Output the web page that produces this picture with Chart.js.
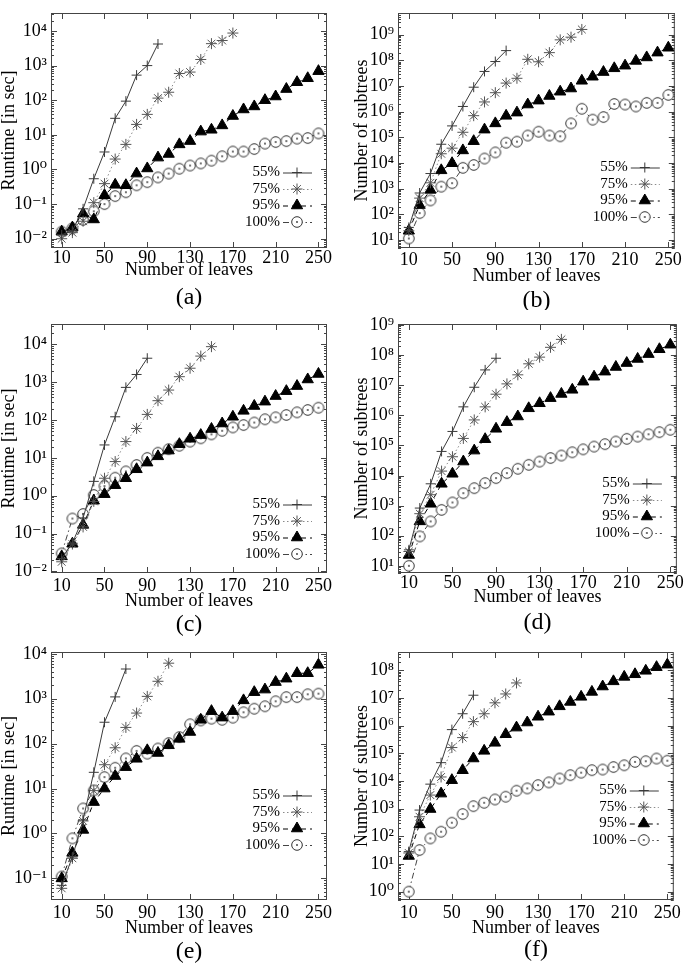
<!DOCTYPE html>
<html>
<head>
<meta charset="utf-8">
<script src="https://cdn.jsdelivr.net/npm/chart.js@4.4.0/dist/chart.umd.min.js"></script>
<style>
  body { margin: 0; background: #fff; width: 685px; height: 964px; position: relative; overflow: hidden; }
  canvas { position: absolute; }
</style>
</head>
<body>
<canvas id="ca"></canvas>
<canvas id="cb"></canvas>
<canvas id="cc"></canvas>
<canvas id="cd"></canvas>
<canvas id="ce"></canvas>
<canvas id="cf"></canvas>
<script>
// x values and tick labels
const leaves = [10, 20, 30, 40, 50, 60, 70, 80, 90, 100, 110, 120, 130,
                140, 150, 160, 170, 180, 190, 200, 210, 220, 230, 240, 250];
const xTicks = [10, 50, 90, 130, 170, 210, 250];
const levels = ['55%', '75%', '95%', '100%'];

const runTicksAC = [1e-2, 1e-1, 1e0, 1e1, 1e2, 1e3, 1e4];
const runTicksE = [1e-1, 1e0, 1e1, 1e2, 1e3, 1e4];
const subTicksBD = [1e1, 1e2, 1e3, 1e4, 1e5, 1e6, 1e7, 1e8, 1e9];
const subTicksF = [1e0, 1e1, 1e2, 1e3, 1e4, 1e5, 1e6, 1e7, 1e8];

// (a) runtime
const runA55 = [0.013, 0.017, 0.073, 0.54, 3.2, 30, 94, 530, 1000, 4200];
const runA75 = [0.010, 0.015, 0.032, 0.11, 0.39, 2.0, 5.3, 20, 39, 115, 170, 590, 650, 1500, 4300, 5300, 8700];
const runA95 = [0.016, 0.021, 0.053, 0.036, 0.18, 0.36, 0.35, 0.76, 1.07, 2.2, 2.8, 5.3, 6.6, 12.4, 14, 18.7, 35, 54, 66, 100, 128, 210, 330, 430, 690];
const runA100 = [0.016, 0.02, 0.035, 0.062, 0.1, 0.17, 0.22, 0.35, 0.43, 0.59, 0.76, 1.05, 1.3, 1.5, 1.8, 2.4, 3.3, 3.3, 3.9, 5.6, 6.2, 6.6, 7.8, 8.1, 11];

// (b) subtrees
const subB55 = [31, 680, 3900, 54000, 280000, 1.6e6, 9e6, 3.7e7, 9e7, 2.4e8];
const subB75 = [23, 430, 1700, 23000, 38000, 158000, 700000, 2.4e6, 5.5e6, 1.3e7, 2e7, 1.1e8, 8.8e7, 2e8, 6.3e8, 8e8, 1.6e9];
const subB95 = [23, 230, 900, 5200, 9800, 31000, 71000, 200000, 350000, 690000, 920000, 1.9e6, 2.7e6, 4.1e6, 6e6, 8e6, 1.6e7, 2.3e7, 3.5e7, 4.9e7, 6.2e7, 9.5e7, 1.3e8, 2e8, 3.1e8];
const subB100 = [11.5, 112, 350, 1200, 1650, 6500, 8400, 15000, 26000, 62000, 68000, 118000, 166000, 118000, 110000, 350000, 1.3e6, 490000, 620000, 2e6, 1.9e6, 1.6e6, 2.2e6, 2.2e6, 4.5e6];

// (c) runtime
const runC55 = [0.022, 0.056, 0.26, 2.4, 22, 122, 730, 1600, 4300];
const runC75 = [0.018, 0.053, 0.15, 0.71, 2.9, 8, 27, 60, 141, 325, 620, 1400, 2340, 4900, 8700];
const runC95 = [0.025, 0.054, 0.17, 0.74, 1.1, 1.9, 2.9, 5, 7.5, 11, 15.6, 23, 32, 40, 58, 81, 122, 175, 235, 306, 430, 580, 790, 1180, 1650];
const runC100 = [0.03, 0.25, 0.33, 1.05, 1.8, 3, 4.4, 6.5, 10, 13.7, 17, 21, 27, 33, 42, 52, 64, 74, 86, 105, 118, 136, 160, 185, 212];

// (d) subtrees
const subD55 = [34, 830, 5300, 63000, 290000, 1.9e6, 8.5e6, 3.2e7, 7.8e7];
const subD75 = [30, 540, 2300, 14000, 42000, 170000, 700000, 1.9e6, 5e6, 1.1e7, 2.2e7, 5.1e7, 8.5e7, 1.8e8, 3.3e8];
const subD95 = [23, 300, 1150, 5300, 11400, 29000, 67000, 160000, 355000, 590000, 910000, 1.7e6, 2.5e6, 3.7e6, 5.1e6, 7e6, 1.3e7, 1.9e7, 2.8e7, 4e7, 5.4e7, 7.4e7, 1.07e8, 1.55e8, 2.2e8];
const subD100 = [10, 95, 300, 720, 1270, 2600, 3800, 5600, 8200, 12000, 16700, 22600, 29000, 38000, 46000, 59000, 74000, 91000, 110000, 134000, 165000, 196000, 234000, 275000, 330000];

// (e) runtime
const runE55 = [0.07, 0.3, 2.0, 23, 300, 1100, 4600];
const runE75 = [0.06, 0.28, 1.9, 9, 34, 81, 230, 480, 1130, 2450, 6200];
const runE95 = [0.1, 0.37, 1.2, 5, 10, 19, 30, 46, 71, 62, 92, 128, 182, 340, 530, 380, 530, 920, 1400, 1600, 2350, 2800, 3700, 3700, 5700];
const runE100 = [0.11, 0.78, 3.6, 9.1, 18, 29, 47, 69, 60, 78, 103, 140, 270, 330, 360, 340, 380, 500, 600, 680, 880, 1090, 1090, 1260, 1300];

// (f) subtrees
const subF55 = [28, 890, 7700, 46000, 720000, 2.7e6, 1.26e7];
const subF75 = [25, 510, 3100, 14000, 162000, 370000, 1.4e6, 2.7e6, 6.7e6, 1.4e7, 3.5e7];
const subF95 = [19.5, 270, 970, 3500, 10700, 24500, 65000, 123000, 240000, 490000, 850000, 1.3e6, 2.1e6, 3.2e6, 5e6, 7.2e6, 1.1e7, 1.66e7, 2.6e7, 4e7, 5.8e7, 7.2e7, 9.6e7, 1.3e8, 1.6e8];
const subF100 = [1, 32, 84, 147, 310, 640, 1230, 1630, 2150, 2700, 4450, 5400, 7100, 8900, 12300, 16300, 20000, 24700, 26000, 32000, 37000, 49000, 52000, 65000, 54000];

const SUP = {'-': '\u207B', '0': '\u2070', '1': '\u00B9', '2': '\u00B2', '3': '\u00B3', '4': '\u2074',
             '5': '\u2075', '6': '\u2076', '7': '\u2077', '8': '\u2078', '9': '\u2079'};
const sup = n => String(n).split('').map(c => SUP[c]).join('');

const SERIF = '"Liberation Serif", "DejaVu Serif", serif';
const tickFont = { family: SERIF, size: 18, lineHeight: 1 };
const titleFont = { family: SERIF, size: 18, lineHeight: 1 };

// open circle with a dot in the middle
function dotCircle() {
    const c = document.createElement('canvas');
    c.width = 14; c.height = 14;
    const g = c.getContext('2d');
    g.fillStyle = '#fff';
    g.strokeStyle = '#333';
    g.lineWidth = 1;
    g.beginPath(); g.arc(7, 7, 5.3, 0, Math.PI * 2); g.fill(); g.stroke();
    g.fillStyle = '#333';
    g.beginPath(); g.arc(7, 7, 0.9, 0, Math.PI * 2); g.fill();
    return c;
}

const styles = [
    { color: '#3a3a3a', dash: [], point: 'cross', radius: 5, bg: '#3a3a3a', border: '#3a3a3a' },
    { color: '#8a8a8a', dash: [1.5, 2.5], point: 'star', radius: 5.5, bg: '#555', border: '#555' },
    { color: '#000', dash: [5, 4], point: 'triangle', radius: 6.5, bg: '#000', border: '#000' },
    { color: '#444', dash: [6, 3, 1.5, 3], point: dotCircle(), radius: 5.5, bg: '#fff', border: '#333' }
];

//frame with inward ticks
const framePlugin = {
    id: 'frame',
    beforeDatasetsDraw(chart) {
        const { ctx, chartArea: a, scales: { x, y } } = chart;
        ctx.save();
        ctx.strokeStyle = '#444';
        ctx.lineWidth = 1;
        ctx.strokeRect(a.left + 0.5, a.top + 0.5, a.right - a.left - 1, a.bottom - a.top - 1);
        ctx.beginPath();
        xTicks.forEach(v => {
            const px = Math.round(x.getPixelForValue(v)) + 0.5;
            ctx.moveTo(px, a.bottom); ctx.lineTo(px, a.bottom - 6);
            ctx.moveTo(px, a.top); ctx.lineTo(px, a.top + 6);
        });
        const lo = Math.floor(Math.log10(y.min)), hi = Math.ceil(Math.log10(y.max));
        for (let k = lo; k <= hi; k++) {
            for (let m = 1; m <= 9; m++) {
                const v = m * Math.pow(10, k);
                if (v < y.min || v > y.max) continue;
                const len = m === 1 ? 6 : 3;
                const py = Math.round(y.getPixelForValue(v)) + 0.5;
                ctx.moveTo(a.left, py); ctx.lineTo(a.left + len, py);
                ctx.moveTo(a.right, py); ctx.lineTo(a.right - len, py);
            }
        }
        ctx.stroke();
        ctx.restore();
    },
    afterDraw(chart, args, opts) {
        const { ctx, chartArea: a } = chart;
        ctx.save();
        ctx.fillStyle = '#000';
        ctx.font = '24px ' + SERIF;
        ctx.textAlign = 'center';
        ctx.textBaseline = 'middle';
        ctx.fillText(opts.caption, (a.left + a.right) / 2, a.bottom + opts.capOff);
        ctx.restore();
    }
};

//legend inside the plot, lower right
const legendPlugin = {
    id: 'inLegend',
    afterDraw(chart, args, opts) {
        const { ctx, chartArea: a } = chart;
        const sets = chart.data.datasets;
        sets.forEach((ds, i) => {
            const y = a.bottom - opts.bottom - (sets.length - 1 - i) * 16.5;
            ctx.save();
            ctx.font = '15px ' + SERIF;
            ctx.fillStyle = '#000';
            ctx.textAlign = 'right';
            ctx.textBaseline = 'middle';
            ctx.fillText(ds.label, a.right - 47, y);
            ctx.strokeStyle = ds.borderColor;
            ctx.lineWidth = 1;
            ctx.setLineDash(ds.borderDash);
            ctx.beginPath();
            ctx.moveTo(a.right - 44, y + 0.5);
            ctx.lineTo(a.right - 15, y + 0.5);
            ctx.stroke();
            ctx.setLineDash([]);
            ctx.fillStyle = ds.pointBackgroundColor;
            ctx.strokeStyle = ds.pointBorderColor;
            Chart.helpers.drawPoint(ctx, { pointStyle: ds.pointStyle, radius: ds.pointRadius, borderWidth: 1, rotation: 0 }, a.right - 30, y);
            ctx.restore();
        });
    }
};

const panels = [
    { id: 'a', canvas: [0, 0, 340, 310], area: [51, 1, 327, 248], xMax: 258, yMin: 0.0054, yMax: 33000, yTicks: runTicksAC,
      yTitle: 'Runtime [in sec]', titlePad: 0, tickOff: 10, titleOff: 22, capOff: 50, legend: 26, caption: '(a)',
      series: [runA55, runA75, runA95, runA100] },
    { id: 'b', canvas: [340, 0, 345, 310], area: [398, 1, 680, 248], xMax: 256, yMin: 4.9, yMax: 7e9, yTicks: subTicksBD,
      yTitle: 'Number of subtrees', titlePad: 13, tickOff: 12, titleOff: 28, capOff: 53, legend: 31, caption: '(b)',
      series: [subB55, subB75, subB95, subB100] },
    { id: 'c', canvas: [0, 305, 340, 335], area: [51, 324, 327, 573], xMax: 258, yMin: 0.0091, yMax: 34500, yTicks: runTicksAC,
      yTitle: 'Runtime [in sec]', titlePad: 0, tickOff: 13, titleOff: 28, capOff: 52, legend: 19, caption: '(c)',
      series: [runC55, runC75, runC95, runC100] },
    { id: 'd', canvas: [340, 305, 345, 335], area: [398, 324, 680, 573], xMax: 256, yMin: 5.8, yMax: 1.07e9, yTicks: subTicksBD,
      yTitle: 'Number of subtrees', titlePad: 13, tickOff: 10, titleOff: 24, capOff: 50, legend: 40, caption: '(d)',
      series: [subD55, subD75, subD95, subD100] },
    { id: 'e', canvas: [0, 630, 340, 334], area: [51, 652, 327, 900], xMax: 258, yMin: 0.033, yMax: 11000, yTicks: runTicksE,
      yTitle: 'Runtime [in sec]', titlePad: 0, tickOff: 13, titleOff: 28, capOff: 52, legend: 55, caption: '(e)',
      series: [runE55, runE75, runE95, runE100] },
    { id: 'f', canvas: [340, 630, 345, 334], area: [398, 652, 680, 900], xMax: 256, yMin: 0.5, yMax: 4.6e8, yTicks: subTicksF,
      yTitle: 'Number of subtrees', titlePad: 13, tickOff: 13, titleOff: 28, capOff: 50, legend: 60, caption: '(f)',
      series: [subF55, subF75, subF95, subF100] }
];

panels.forEach(p => {
    const cv = document.getElementById('c' + p.id);
    const [cx, cy, cw, ch] = p.canvas;
    const [al, at, ar, ab] = p.area;
    const hx = p.titleOff + 9;
    cv.width = cw; cv.height = ch;
    cv.style.left = cx + 'px'; cv.style.top = cy + 'px';

    new Chart(cv, {
        type: 'line',
        data: {
            datasets: p.series.map((vals, i) => ({
                label: levels[i],
                data: vals.map((v, j) => ({ x: leaves[j], y: v })),
                borderColor: styles[i].color,
                borderWidth: 1,
                borderDash: styles[i].dash,
                tension: 0,
                fill: false,
                pointStyle: styles[i].point,
                pointRadius: styles[i].radius,
                pointBackgroundColor: styles[i].bg,
                pointBorderColor: styles[i].border,
                pointBorderWidth: 1
            }))
        },
        options: {
            responsive: false,
            animation: false,
            devicePixelRatio: 1,
            layout: { padding: { left: 0, top: at - cy, right: cx + cw - ar, bottom: cy + ch - ab - hx } },
            plugins: {
                legend: { display: false },
                tooltip: { enabled: false },
                frame: { caption: p.caption, capOff: p.capOff },
                inLegend: { bottom: p.legend }
            },
            scales: {
                x: {
                    type: 'linear', min: 0, max: p.xMax,
                    grid: { display: false, drawTicks: false },
                    border: { display: false },
                    afterBuildTicks: s => { s.ticks = xTicks.map(v => ({ value: v })); s.min = 0; s.max = p.xMax; },
                    afterFit: s => { s.height = hx; },
                    ticks: { padding: p.tickOff - 9, font: tickFont, color: '#000', autoSkip: false, maxRotation: 0,
                             callback: v => String(v) },
                    title: { display: true, text: 'Number of leaves', font: titleFont, color: '#000', padding: 0 }
                },
                y: {
                    type: 'logarithmic', min: p.yMin, max: p.yMax,
                    grid: { display: false, drawTicks: false },
                    border: { display: false },
                    afterBuildTicks: s => { s.ticks = p.yTicks.map(v => ({ value: v })); s.min = p.yMin; s.max = p.yMax; },
                    afterFit: s => { s.width = al - cx; },
                    ticks: { padding: 4, font: tickFont, color: '#000', autoSkip: false,
                             callback: v => '10' + sup(Math.round(Math.log10(v))) },
                    title: { display: true, text: p.yTitle, font: titleFont, color: '#000', padding: { top: p.titlePad, bottom: 0 } }
                }
            }
        },
        plugins: [framePlugin, legendPlugin]
    });
});
</script>
</body>
</html>
